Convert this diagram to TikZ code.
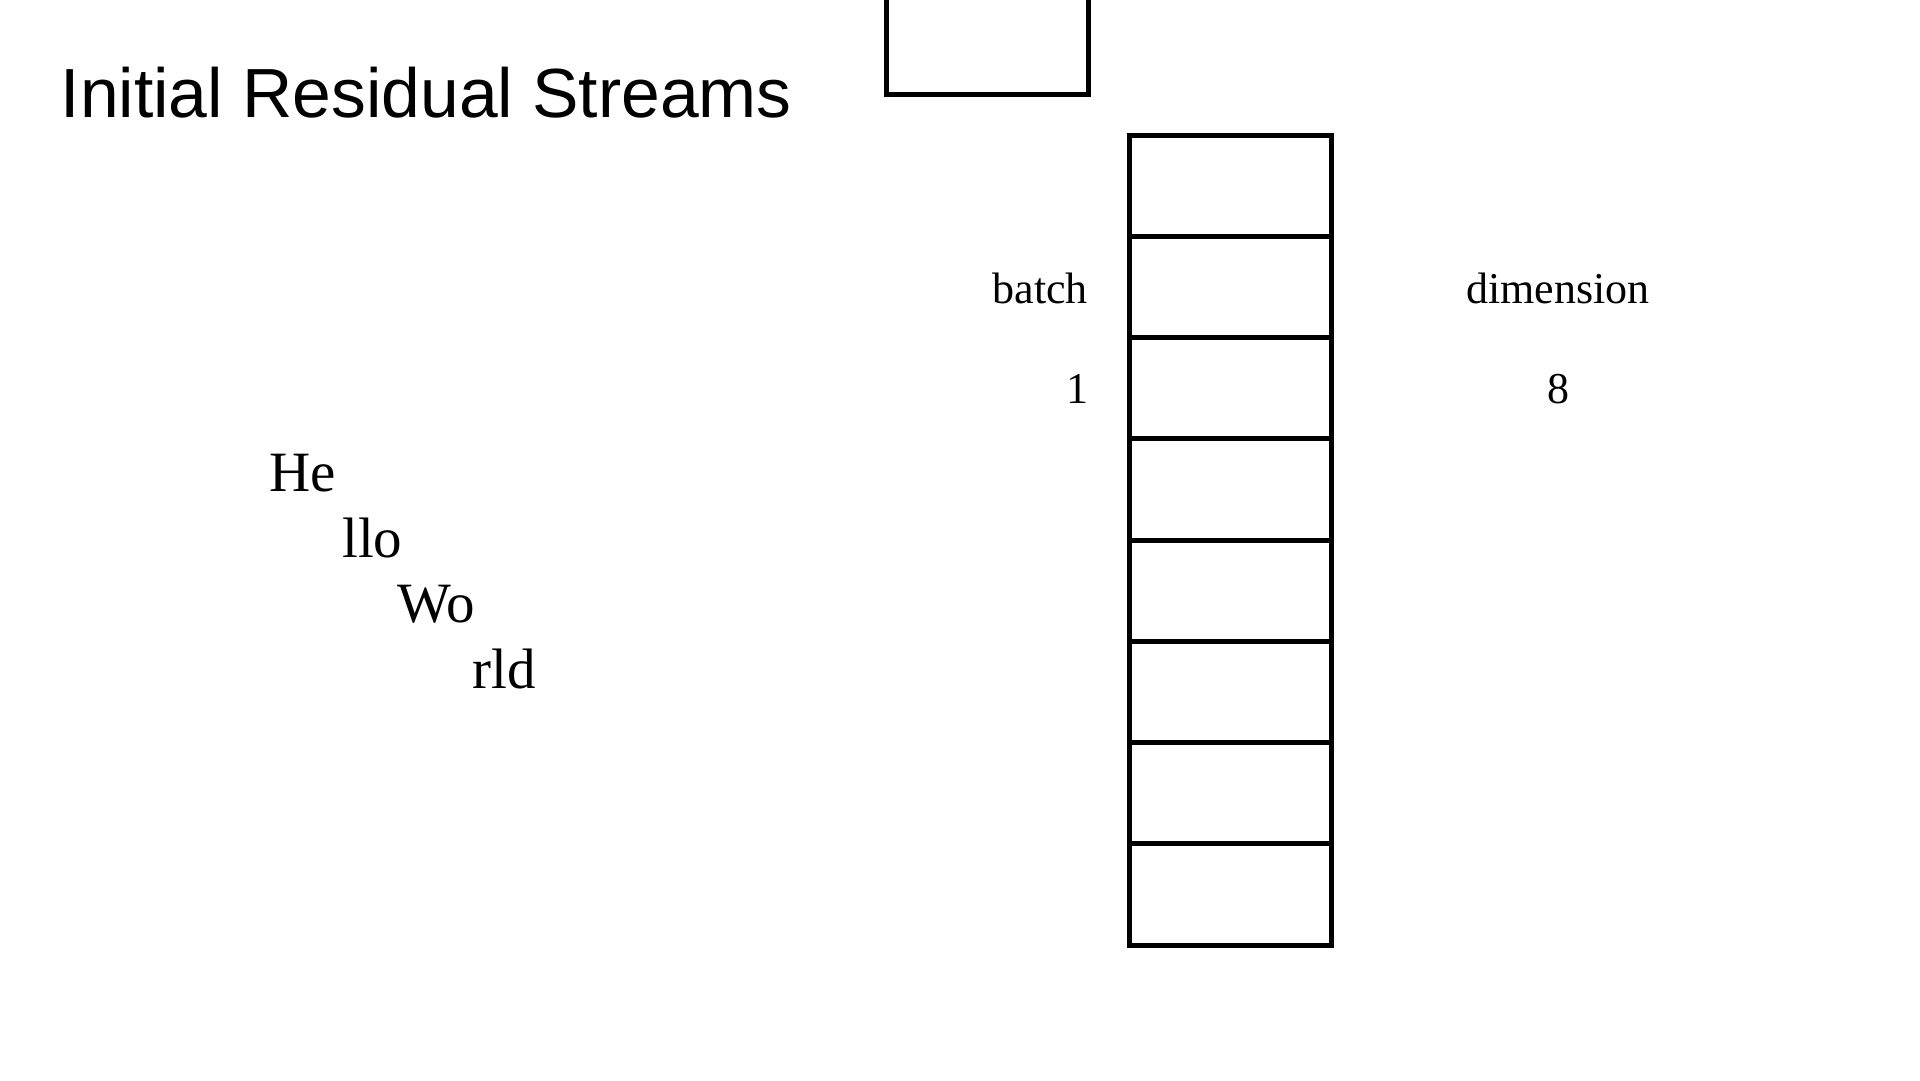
\documentclass[tikz,border=0pt]{standalone}
\usepackage{fontspec}
\setmainfont{Liberation Serif}
\newfontfamily\titlefont{Liberation Sans}
\begin{document}
\begin{tikzpicture}[x=1pt,y=-1pt,
  cell/.style={draw=black,line width=5pt,rectangle,inner sep=0pt,
    minimum width=202pt,minimum height=101.25pt},
  lbl/.style={inner sep=0pt,font=\fontsize{44}{50}\selectfont},
  tok/.style={inner sep=0pt,anchor=base west,font=\fontsize{57}{64}\selectfont},
  ttl/.style={inner sep=0pt,anchor=base west,font=\titlefont\fontsize{69.6}{80}\selectfont}]
\useasboundingbox (0,0) rectangle (1920,1080);
\clip (0,0) rectangle (1920,1080);
\fill[white] (0,0) rectangle (1920,1080);
% title
\node[ttl] (title) at (60.5,117) {Initial Residual Streams};
% top box (cut off by the upper edge)
\node[cell,minimum height=202pt] (topbox) at (987,-7) {};
% column of cells
\foreach \i in {1,...,8}{
  \node[cell] (c\i) at (1230,{135+101.25*(\i-0.5)}) {};
}
% labels
\node[lbl,anchor=base east] (batch) at (1088,303) {batch};
\node[lbl,anchor=base east] (bval) at (1089,403) {1};
\node[lbl,anchor=base] (dim) at (1558,303) {dimension};
\node[lbl,anchor=base] (dval) at (1558,403) {8};
% tokens
\node[tok] (t1) at (269,491) {He};
\node[tok] (t2) at (342,557) {llo};
\node[tok] (t3) at (397,622) {Wo};
\node[tok] (t4) at (472.5,688) {rld};
\end{tikzpicture}
\end{document}
